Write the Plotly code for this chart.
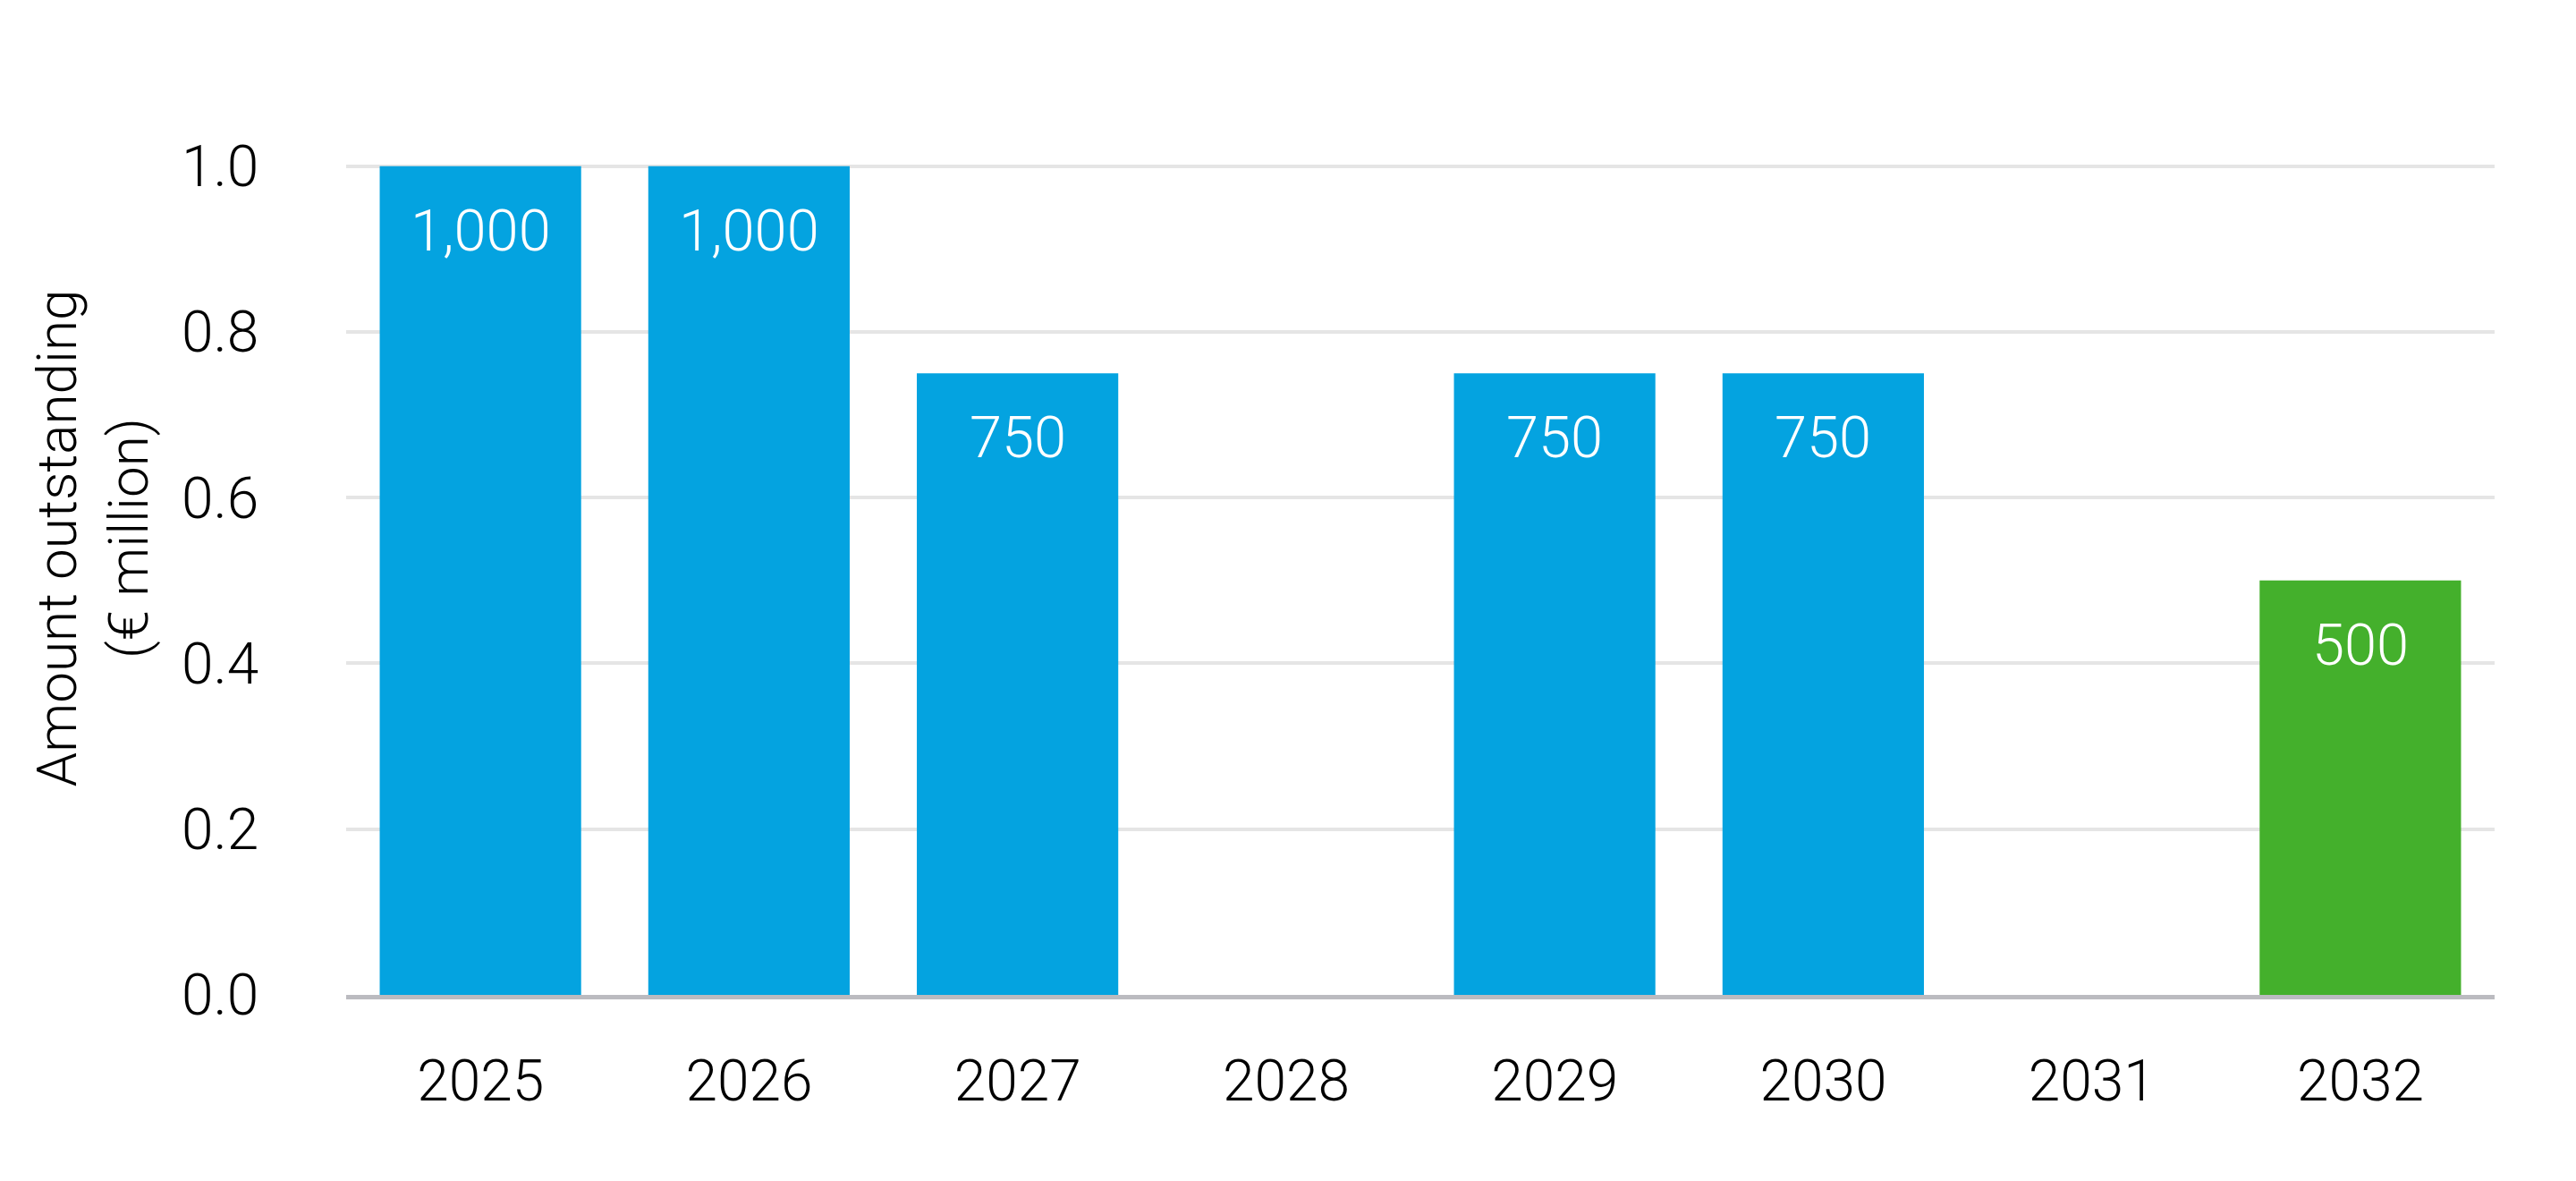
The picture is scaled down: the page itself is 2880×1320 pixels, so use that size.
import plotly.graph_objects as go

# maturity profile, amounts in € million
years = ["2025", "2026", "2027", "2028", "2029", "2030", "2031", "2032"]
amounts = [1000, 1000, 750, 0, 750, 750, 0, 500]
green_years = ["2032"]

BLUE = "#04A3E0"
GREEN = "#44B02C"
FONT = "Roboto"

heights = [a / 1000 for a in amounts]
colors = [GREEN if y in green_years else BLUE for y in years]

fig = go.Figure()
fig.add_trace(go.Bar(
    x=years,
    y=heights,
    marker=dict(color=colors, line=dict(width=0)),
    hoverinfo="x+y",
))

# value labels inside the top of each bar (x given as category index)
for i, (amt, h) in enumerate(zip(amounts, heights)):
    if amt <= 0:
        continue
    fig.add_annotation(
        x=i, y=h, yshift=-72,
        text=f"{amt:,}",
        showarrow=False,
        font=dict(family=FONT, size=65, color="white", weight=300),
    )

fig.add_annotation(
    xref="paper", yref="paper", x=-0.118, y=0.5, yshift=45,
    xanchor="center", yanchor="middle",
    text="Amount outstanding<br>(€ million)",
    textangle=-90, showarrow=False,
    font=dict(family=FONT, size=62, color="black", weight=300),
)

fig.update_layout(
    width=2880, height=1320,
    margin=dict(l=379, r=99, t=174, b=216),
    plot_bgcolor="white", paper_bgcolor="white",
    bargap=0.25,
    showlegend=False,
    font=dict(family=FONT, size=64, color="black", weight=300),
    xaxis=dict(
        type="category",
        range=[-0.5, len(years) - 0.5],
        showgrid=False,
        showline=True, linecolor="#BBBBC0", linewidth=5,
        ticks="outside", ticklen=36, tickcolor="rgba(0,0,0,0)",
        tickfont=dict(family=FONT, size=64, color="black", weight=300),
    ),
    yaxis=dict(
        range=[0, 1.004],
        tickvals=[0, 0.2, 0.4, 0.6, 0.8, 1.0],
        tickformat=".1f",
        showgrid=True, gridcolor="#E5E5E5", gridwidth=4,
        zeroline=False, showline=False,
        ticks="outside", ticklen=84, tickcolor="rgba(0,0,0,0)",
        tickfont=dict(family=FONT, size=64, color="black", weight=300),
    ),
)

fig.write_html("out.html")
